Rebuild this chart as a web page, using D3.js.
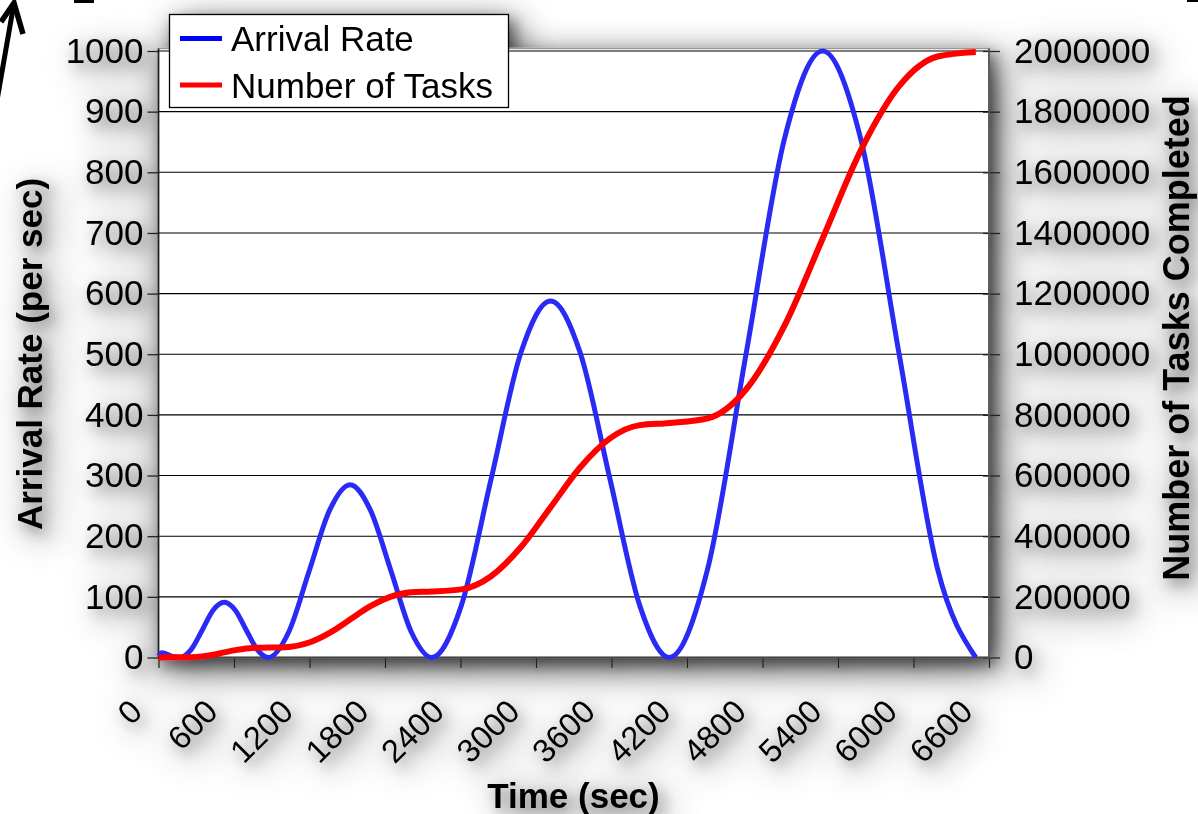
<!DOCTYPE html>
<html><head><meta charset="utf-8">
<script src="https://cdn.jsdelivr.net/npm/d3@7"></script>
<style>html,body{margin:0;padding:0;background:#fff;overflow:hidden}</style>
</head><body>
<svg id="c" width="1198" height="814"></svg>
<script>
// ---- data ----
const timeSec = [0, 25, 60, 110, 171,
  259, 347, 434, 522, 610, 698, 785, 873,
  1035, 1198, 1360, 1522, 1684, 1847, 2009, 2171,
  2407, 2643, 2879, 3116, 3352, 3588, 3824, 4060,
  4364, 4669, 4973, 5278, 5582, 5886, 6191, 6495];
const arrivalRate = [3, 8, 6, 2, 0,
  13, 45, 78, 91, 78, 45, 13, 0,
  42, 143, 243, 285, 243, 143, 42, 0,
  86, 294, 502, 588, 502, 294, 86, 0,
  146, 500, 854, 1000, 854, 500, 146, 0];
const tasksCompleted = [0, 150, 400, 650, 750,
  1150, 3650, 9130, 16720, 24310, 29790, 32300, 32700,
  35000, 49500, 81200, 125200, 169100, 200900, 215400, 217700,
  224600, 268100, 363400, 495400, 627300, 722600, 766200, 773100,
  788300, 883700, 1092600, 1381900, 1673000, 1884000, 1982000, 1997000];
const xTickValues = [0, 600, 1200, 1800, 2400, 3000, 3600, 4200, 4800, 5400, 6000, 6600];
const leftTickValues = [0, 100, 200, 300, 400, 500, 600, 700, 800, 900, 1000];
const rightTickValues = [0, 200000, 400000, 600000, 800000, 1000000, 1200000, 1400000, 1600000, 1800000, 2000000];
const seriesNames = ["Arrival Rate", "Number of Tasks"];
const seriesColors = ["#0000ff", "#ff0000"];
const xTitle = "Time (sec)";
const leftTitle = "Arrival Rate (per sec)";
const rightTitle = "Number of Tasks Completed";

// ---- layout ----
const FONT = "'Liberation Sans', Arial, Helvetica, sans-serif";
const m = {l: 158.5, r: 989, t: 51, b: 657.5};
const x = d3.scaleLinear().domain([0, 6600]).range([m.l, m.r]);
const yL = d3.scaleLinear().domain([0, 1000]).range([m.b, m.t]);
const yR = d3.scaleLinear().domain([0, 2000000]).range([m.b, m.t]);

const svg = d3.select("#c");
svg.append("rect").attr("width", 1198).attr("height", 814).attr("fill", "#fff");

const defs = svg.append("defs");
const f = defs.append("filter").attr("id", "shadow").attr("filterUnits", "userSpaceOnUse")
  .attr("x", -100).attr("y", -100).attr("width", 1400).attr("height", 1100);
// wide soft shadow
f.append("feGaussianBlur").attr("in", "SourceAlpha").attr("stdDeviation", 18).attr("result", "b1");
f.append("feOffset").attr("in", "b1").attr("dx", 8).attr("dy", 10).attr("result", "o1");
f.append("feComponentTransfer").attr("in", "o1").attr("result", "s1")
  .append("feFuncA").attr("type", "linear").attr("slope", 0.72);
// tighter shadow (gives the text halos)
f.append("feGaussianBlur").attr("in", "SourceAlpha").attr("stdDeviation", 7).attr("result", "b2");
f.append("feOffset").attr("in", "b2").attr("dx", 5).attr("dy", 6).attr("result", "o2");
f.append("feComponentTransfer").attr("in", "o2").attr("result", "s2")
  .append("feFuncA").attr("type", "linear").attr("slope", 0.42);
const mg = f.append("feMerge");
mg.append("feMergeNode").attr("in", "s1");
mg.append("feMergeNode").attr("in", "s2");
mg.append("feMergeNode").attr("in", "SourceGraphic");

const g = svg.append("g").attr("filter", "url(#shadow)");

// plot area
g.append("rect").attr("x", m.l).attr("y", 48.5).attr("width", m.r - m.l).attr("height", m.b - 48.5)
  .attr("fill", "#fff").attr("stroke", "#9a9a9a").attr("stroke-width", 1.5);

// gridlines
g.append("g").selectAll("line").data(leftTickValues.slice(1)).join("line")
  .attr("x1", m.l).attr("x2", m.r).attr("y1", d => yL(d)).attr("y2", d => yL(d))
  .attr("stroke", "#000").attr("stroke-width", 1.1);

// axes
const axL = g.append("g").attr("transform", `translate(${m.l},0)`)
  .call(d3.axisLeft(yL).tickValues(leftTickValues).tickSize(11).tickPadding(4).tickFormat(d3.format("d")));
const axR = g.append("g").attr("transform", `translate(${m.r},0)`)
  .call(d3.axisRight(yR).tickValues(rightTickValues).tickSize(11).tickPadding(14).tickFormat(d3.format("d")));
const axRin = g.append("g").attr("transform", `translate(${m.r},0)`)
  .call(d3.axisLeft(yR).tickValues(rightTickValues).tickSize(6).tickFormat(""));
const axB = g.append("g").attr("transform", `translate(0,${m.b})`)
  .call(d3.axisBottom(x).tickValues(xTickValues).tickSize(10.5).tickFormat(d3.format("d")));
[axL, axR, axRin, axB].forEach(a => {
  a.select(".domain").remove();
  a.selectAll(".tick line").attr("stroke", "#222").attr("stroke-width", 1.3);
  a.selectAll("text").attr("fill", "#000").style("font-family", FONT).style("font-size", "35px");
});
axB.selectAll(".tick text")
  .attr("y", 0).attr("dy", 0).attr("text-anchor", "end")
  .attr("transform", "translate(-15,56) rotate(-45)")
  .style("font-size", "32.5px");

// axis lines
g.append("line").attr("x1", m.l).attr("x2", m.l).attr("y1", 48.5).attr("y2", m.b + 1)
  .attr("stroke", "#1a1a1a").attr("stroke-width", 1.6);
g.append("line").attr("x1", m.l).attr("x2", m.r).attr("y1", m.b).attr("y2", m.b)
  .attr("stroke", "#444").attr("stroke-width", 2);
g.append("line").attr("x1", m.r).attr("x2", m.r).attr("y1", 48.5).attr("y2", m.b + 1)
  .attr("stroke", "#555").attr("stroke-width", 1.8);

// series
const pts = timeSec.map((t, i) => ({t, a: arrivalRate[i], n: tasksCompleted[i]}));
g.append("path").datum(pts)
  .attr("d", d3.line().x(d => x(d.t)).y(d => yL(d.a)).curve(d3.curveMonotoneX))
  .attr("fill", "none").attr("stroke", "#2a2af5").attr("stroke-width", 5).attr("stroke-linejoin", "round");
g.append("path").datum(pts)
  .attr("d", d3.line().x(d => x(d.t)).y(d => yR(d.n)).curve(d3.curveMonotoneX))
  .attr("fill", "none").attr("stroke", "#ff0000").attr("stroke-width", 6).attr("stroke-linejoin", "round");

// legend
const lg = g.append("g");
lg.append("rect").attr("x", 169.5).attr("y", 14.5).attr("width", 339).attr("height", 93)
  .attr("fill", "#fff").attr("stroke", "#000").attr("stroke-width", 1.3);
const legY = [38.5, 85];
seriesNames.forEach((nm, i) => {
  lg.append("line").attr("x1", 180).attr("x2", 222).attr("y1", legY[i]).attr("y2", legY[i])
    .attr("stroke", seriesColors[i]).attr("stroke-width", 5);
  lg.append("text").attr("x", 231).attr("y", legY[i] + 12.5).text(nm)
    .style("font-family", FONT).style("font-size", "35px").attr("fill", "#000");
});

// titles
g.append("text").attr("transform", "translate(42,354) rotate(-90)").attr("text-anchor", "middle")
  .text(leftTitle).style("font-family", FONT).style("font-size", "35px").style("font-weight", "bold");
g.append("text").attr("transform", "translate(1189,338) rotate(-90)").attr("text-anchor", "middle")
  .text(rightTitle).style("font-family", FONT).style("font-size", "36px").style("font-weight", "bold");
g.append("text").attr("x", 573.5).attr("y", 808).attr("text-anchor", "middle")
  .text(xTitle).style("font-family", FONT).style("font-size", "35px").style("font-weight", "bold");

// stray slide marks at the edges
const marks = svg.append("g").attr("stroke", "#000").attr("fill", "none");
marks.append("line").attr("x1", -5).attr("y1", 112).attr("x2", 14).attr("y2", 3).attr("stroke-width", 5);
marks.append("polyline").attr("points", "1,22 14,3 23,34").attr("stroke-width", 5.5).attr("stroke-linejoin", "miter");
svg.append("rect").attr("x", 74).attr("y", 0).attr("width", 20).attr("height", 3).attr("fill", "#000");
svg.append("rect").attr("x", 1187).attr("y", 0).attr("width", 11).attr("height", 2).attr("fill", "#000");
</script>
</body></html>
